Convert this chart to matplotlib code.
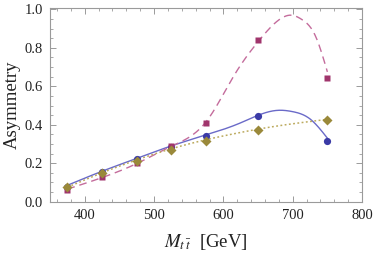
import numpy as np
import matplotlib
matplotlib.use("Agg")
import matplotlib.pyplot as plt
from matplotlib.ticker import MultipleLocator

# Data points (bin centres, GeV) and asymmetries
mass = [375, 425, 475, 525, 575, 650, 750]
asym_blue = [0.078, 0.155, 0.220, 0.285, 0.343, 0.447, 0.317]
asym_magenta = [0.061, 0.130, 0.203, 0.290, 0.407, 0.840, 0.643]
asym_olive = [0.075, 0.148, 0.212, 0.266, 0.317, 0.374, 0.423]

# Fit curves (knots)
fit_blue_x = [375, 425, 475, 525, 575, 625, 650, 679, 700, 725, 750]
fit_blue_y = [0.085, 0.158, 0.225, 0.290, 0.347, 0.410, 0.449, 0.475, 0.468, 0.430, 0.330]
fit_mag_x = [375, 425, 475, 525, 576, 616, 653, 684, 698, 713, 733, 750]
fit_mag_y = [0.065, 0.125, 0.198, 0.288, 0.420, 0.660, 0.845, 0.955, 0.970, 0.948, 0.860, 0.675]
fit_olive_x = [375, 425, 475, 525, 575, 625, 650, 700, 750]
fit_olive_y = [0.075, 0.150, 0.217, 0.275, 0.322, 0.360, 0.377, 0.405, 0.428]


def natural_spline(xk, yk, n=400):
    xk = np.asarray(xk, float)
    yk = np.asarray(yk, float)
    m = len(xk)
    h = np.diff(xk)
    A = np.zeros((m, m))
    b = np.zeros(m)
    A[0, 0] = 1
    A[-1, -1] = 1
    for i in range(1, m - 1):
        A[i, i - 1] = h[i - 1]
        A[i, i] = 2 * (h[i - 1] + h[i])
        A[i, i + 1] = h[i]
        b[i] = 6 * ((yk[i + 1] - yk[i]) / h[i] - (yk[i] - yk[i - 1]) / h[i - 1])
    M = np.linalg.solve(A, b)
    xs = np.linspace(xk[0], xk[-1], n)
    idx = np.clip(np.searchsorted(xk, xs) - 1, 0, m - 2)
    x0, x1 = xk[idx], xk[idx + 1]
    hh = x1 - x0
    t0 = x1 - xs
    t1 = xs - x0
    ys = (M[idx] * t0**3 / (6 * hh) + M[idx + 1] * t1**3 / (6 * hh)
          + (yk[idx] / hh - M[idx] * hh / 6) * t0
          + (yk[idx + 1] / hh - M[idx + 1] * hh / 6) * t1)
    return xs, ys


plt.rcParams['font.family'] = ['Liberation Serif', 'DejaVu Serif']
plt.rcParams['mathtext.fontset'] = 'stix'

fig = plt.figure(figsize=(3.74, 2.56), dpi=100)
ax = fig.add_axes([0.134, 0.211, 0.834, 0.756])

c_blue = '#3a3aa6'
c_mag = '#a0356c'
c_olive = '#9a893a'

xb, yb = natural_spline(fit_blue_x, fit_blue_y)
xm, ym = natural_spline(fit_mag_x, fit_mag_y)
xo, yo = natural_spline(fit_olive_x, fit_olive_y)

ax.plot(xb, yb, '-', color='#6a6ac8', lw=1.0, zorder=2)
ax.plot(xm, ym, color='#c46c9c', lw=1.0, dashes=(5.5, 3.5), zorder=2)
ax.plot(xo, yo, color='#bcaa5e', lw=1.1, dashes=(1.2, 1.6), zorder=2)

ax.plot(mass, asym_blue, 'o', color=c_blue, ms=5.2, mec='none', zorder=3)
ax.plot(mass, asym_magenta, 's', color=c_mag, ms=4.8, mec='none', zorder=4)
ax.plot(mass, asym_olive, 'D', color=c_olive, ms=4.6, mec='none', zorder=5)

ax.set_xlim(350, 800)
ax.set_ylim(-0.002, 1.005)
ax.xaxis.set_major_locator(MultipleLocator(100))
ax.xaxis.set_minor_locator(MultipleLocator(20))
ax.yaxis.set_major_locator(MultipleLocator(0.2))
ax.yaxis.set_minor_locator(MultipleLocator(0.05))
ax.yaxis.set_major_formatter(matplotlib.ticker.FormatStrFormatter('%.1f'))

for s in ax.spines.values():
    s.set_color('#9a9a9a')
    s.set_linewidth(0.8)
ax.tick_params(which='both', direction='in', top=True, right=True, color='#9a9a9a',
               labelsize=10.5, labelcolor='#222222', pad=5)
ax.tick_params(which='major', length=4, width=0.7)
ax.tick_params(which='minor', length=2, width=0.6)

ax.set_ylabel('Asymmetry', fontsize=13.5, color='#222222', labelpad=3)
ax.set_xlabel(r'$M_{t\,\bar{t}}$  [GeV]', fontsize=13.5, color='#222222', labelpad=7)

fig.savefig('out.png', dpi=100)
